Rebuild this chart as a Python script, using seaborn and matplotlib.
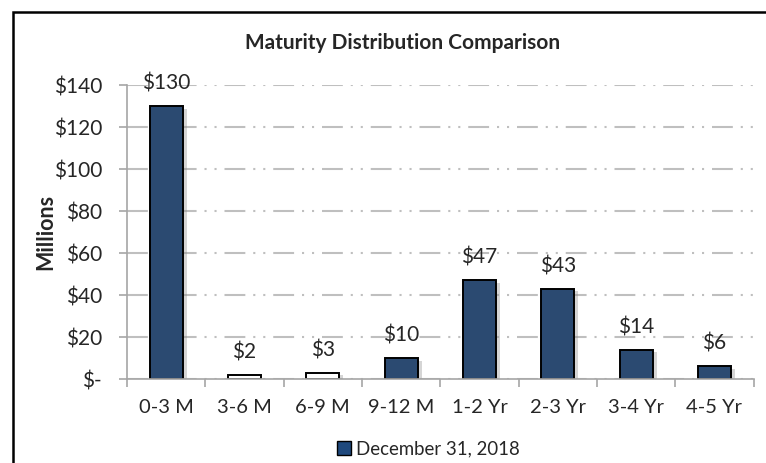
import matplotlib
matplotlib.use("Agg")
import matplotlib.pyplot as plt
import matplotlib.patches as mpatches
import matplotlib.patheffects as pe
import pandas as pd
import seaborn as sns

# data
categories = ["0-3 M", "3-6 M", "6-9 M", "9-12 M", "1-2 Yr", "2-3 Yr", "3-4 Yr", "4-5 Yr"]
values = [130, 2, 3, 10, 47, 43, 14, 6]
series_name = "December 31, 2018"
y_ticks = [0, 20, 40, 60, 80, 100, 120, 140]
y_tick_labels = ["$-", "$20", "$40", "$60", "$80", "$100", "$120", "$140"]

navy = "#1F497D"

sns.set_style("white")
plt.rcParams["font.family"] = ["Lato", "DejaVu Sans"]

df = pd.DataFrame({"bucket": categories, "amount": values, "series": series_name})

fig = plt.figure(figsize=(7.66, 4.63), dpi=100)
ax = fig.add_axes([0.1658, 0.1814, 0.818, 0.635])

sns.barplot(data=df, x="bucket", y="amount", hue="series", palette=[navy],
            width=0.42, edgecolor="black", linewidth=1.4, ax=ax, legend=False)

shadow = [pe.SimplePatchShadow(offset=(3, -2), shadow_rgbFace="#888888", alpha=0.35), pe.Normal()]
for bar, v in zip(ax.patches, values):
    bar.set_path_effects(shadow)
    if v < 5:
        bar.set_facecolor("white")
    ax.annotate(f"${v}", (bar.get_x() + bar.get_width() / 2, v),
                xytext=(0, 9), textcoords="offset points",
                ha="center", va="bottom", fontsize=15)

ax.set_ylim(0, 140)
ax.set_xlim(-0.5, len(categories) - 0.5)
ax.set_yticks(y_ticks)
ax.set_yticklabels(y_tick_labels)
ax.yaxis.grid(True, color="#BFBFBF", linewidth=1.5, linestyle=(0, (10, 3.8, 1, 3.8, 1, 3.8)))
ax.set_axisbelow(True)

for s in ["top", "right"]:
    ax.spines[s].set_visible(False)
ax.spines["left"].set_color("#A6A6A6")
ax.spines["bottom"].set_color("#A6A6A6")
ax.spines["left"].set_linewidth(1.2)
ax.spines["bottom"].set_linewidth(1.2)

ax.tick_params(axis="y", which="both", left=True, length=6, width=1.2, color="#A6A6A6",
               labelsize=15, pad=12)
# x ticks sit between the categories
ax.set_xticks(range(len(categories)))
ax.set_xticklabels(categories, fontsize=14.5)
ax.tick_params(axis="x", bottom=False, pad=11)
ax.set_xticks([i + 0.5 for i in range(-1, len(categories))], minor=True)
ax.tick_params(axis="x", which="minor", bottom=True, length=6, width=1.2, color="#A6A6A6")

ax.set_xlabel("")
ax.set_ylabel("Millions", fontsize=15.5, fontweight="bold", labelpad=-2)

fig.text(0.525, 1 - 43 / 463, "Maturity Distribution Comparison", ha="center", va="center",
         fontsize=15, fontweight="bold")

handle = mpatches.Patch(facecolor=navy, edgecolor="black", linewidth=1)
fig.legend([handle], [series_name], loc="center", bbox_to_anchor=(0.559, 0.03),
           frameon=False, fontsize=13.4, handlelength=0.75, handleheight=0.75,
           handletextpad=0.25)

# outer chart frame
frame = mpatches.Rectangle((13 / 766, -0.05), 1.0, 1 - 12 / 463 + 0.05,
                           transform=fig.transFigure, fill=False,
                           edgecolor="black", linewidth=1.8)
fig.patches.append(frame)

fig.savefig("out.png", dpi=100)
